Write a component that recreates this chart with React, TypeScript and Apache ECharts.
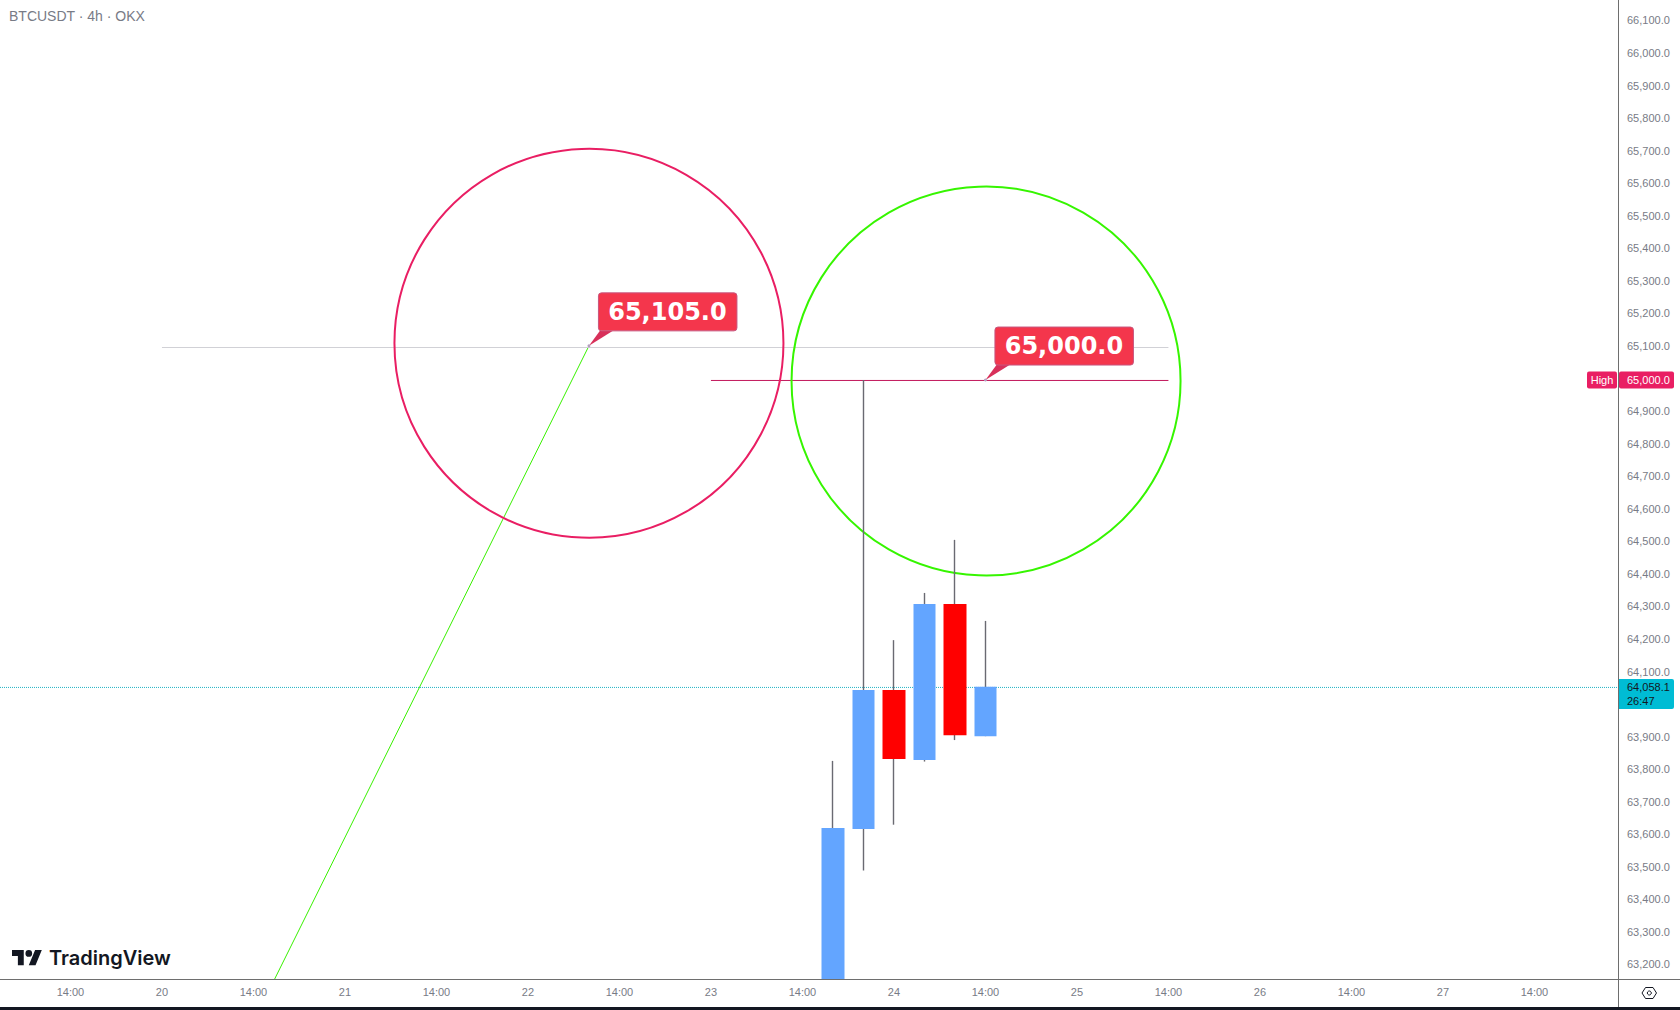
import React, { useEffect, useRef } from "react";
import * as echarts from "echarts";

const title = "BTCUSDT · 4h · OKX";
const xMin = -29.31;
const xMax = 23.74;
const yMin = 63160;
const yMax = 66167.5;

const xTickValues = [-27, -24, -21, -18, -15, -12, -9, -6, -3, 0, 3, 6, 9, 12, 15, 18, 21];
const xTickLabels = ["14:00", "20", "14:00", "21", "14:00", "22", "14:00", "23", "14:00", "24", "14:00", "25", "14:00", "26", "14:00", "27", "14:00"];
const yTickValues = [63200, 63300, 63400, 63500, 63600, 63700, 63800, 63900, 64100, 64200, 64300, 64400, 64500, 64600, 64700, 64800, 64900, 65000, 65100, 65200, 65300, 65400, 65500, 65600, 65700, 65800, 65900, 66000, 66100];

// [slot, open, close, low, high]
const candles = [
  [-2, 63160, 63624, 63160, 63830],
  [-1, 63621, 64048, 63493, 65000],
  [0, 64048, 63836, 63634, 64201],
  [1, 63833, 64312, 63828, 64346],
  [2, 64312, 63909, 63894, 64509],
  [3, 63906, 64058, 63906, 64260],
];

const greenLeg = [[-21.03, 63023], [-10, 65105]];
const greyLevel = [[-24, 65100], [9, 65100]];
const redLevel = [[-6, 64998.7], [9, 64998.7]];
const lastPriceLine = [[xMin, 64055.7], [xMax, 64055.7]];
const redCircle = [[-10, 65113]];
const greenCircle = [[3.02, 64997]];
const callouts = [[-10, 65105], [3, 65000]];
const calloutTexts = ["65,105.0", "65,000.0"];
const highPrice = [[xMax, 65000]];
const highTexts = ["High", "65,000.0"];
const lastPrice = [[xMax, 64057]];
const lastTexts = ["64,058.1", "26:47"];

const UI_FONT = "'Liberation Sans', Arial, sans-serif";
const BLUE = "#63a5ff";
const RED = "#ff0000";
const WICK = "#6a6a72";
const AXIS = "#787b86";
const LINE = "#6e6e6e";
const PINK = "#e91e63";
const CALLOUT = "#f4364c";

const TV_MARK =
  "M14 22H7V11H0V4h14v18zM28 22h-8l7.5-18h8L28 22zM16 8a4 4 0 1 0 8 0a4 4 0 1 0-8 0z";
echarts.graphic.registerShape("tvmark", echarts.graphic.extendPath(TV_MARK, {}));

export default function App() {
  const ref = useRef<HTMLDivElement>(null);
  useEffect(() => {
    document.body.style.margin = "0";
    const chart = echarts.init(ref.current!, null, { renderer: "svg" });
    const lineSeries = (name: string, data: number[][], color: string, width: number, z = 2, type = "solid") => ({
      name,
      type: "line",
      data,
      symbol: "none",
      silent: true,
      z,
      lineStyle: { color, width, type },
    });
    const circle = (name: string, data: number[][], color: string) => ({
      name,
      type: "scatter",
      data,
      symbol: "circle",
      symbolSize: 389,
      silent: true,
      z: 3,
      itemStyle: { color: "rgba(0,0,0,0)", borderColor: color, borderWidth: 2, opacity: 1 },
    });
    chart.setOption({
      animation: false,
      backgroundColor: "#ffffff",
      title: {
        text: title,
        left: 4,
        top: 4,
        textStyle: { color: AXIS, fontSize: 14, fontWeight: "normal", fontFamily: UI_FONT },
      },
      grid: { left: 0, right: 62, top: 0, bottom: 31 },
      xAxis: {
        type: "value",
        min: xMin,
        max: xMax,
        splitLine: { show: false },
        axisLine: { show: false, onZero: false },
        axisTick: { show: false },
        axisLabel: {
          customValues: xTickValues,
          formatter: (v: number) => xTickLabels[xTickValues.indexOf(v)] ?? "",
          color: AXIS,
          fontSize: 11,
          fontFamily: UI_FONT,
          margin: 7,
        },
      },
      yAxis: {
        type: "value",
        position: "right",
        min: yMin,
        max: yMax,
        splitLine: { show: false },
        axisLine: { show: false, onZero: false },
        axisTick: { show: false },
        axisLabel: {
          customValues: yTickValues,
          formatter: (v: number) =>
            v.toLocaleString("en-US", { minimumFractionDigits: 1, maximumFractionDigits: 1 }),
          color: AXIS,
          fontSize: 11,
          fontFamily: UI_FONT,
          margin: 9,
          verticalAlign: "bottom",
          lineHeight: 3,
        },
      },
      series: [
        lineSeries("Last price", lastPriceLine, "#22b3c4", 1, 1, "dotted"),
        lineSeries("Leg", greenLeg, "#39f000", 1),
        lineSeries("Level 65105", greyLevel, "#d1d1d6", 1),
        lineSeries("Level 65000", redLevel, "#c2185b", 1),
        circle("Sell zone", redCircle, PINK),
        circle("Buy zone", greenCircle, "#36f500"),
        {
          name: "Wicks",
          type: "candlestick",
          data: candles,
          encode: { x: 0, y: [1, 2, 3, 4] },
          barWidth: 1,
          silent: true,
          z: 4,
          itemStyle: { color: WICK, color0: WICK, borderColor: WICK, borderColor0: WICK, borderWidth: 1.4 },
        },
        {
          name: "BTCUSDT",
          type: "candlestick",
          data: candles,
          encode: { x: 0, y: [1, 2, 3, 4] },
          barWidth: 23,
          silent: true,
          z: 5,
          itemStyle: { color: BLUE, color0: RED, borderColor: BLUE, borderColor0: RED, borderWidth: 0 },
        },
        {
          name: "Callouts",
          type: "custom",
          data: callouts,
          encode: { x: 0, y: 1 },
          silent: true,
          z: 8,
          renderItem: (params: any, api: any) => {
            const [x, y] = api.coord([api.value(0), api.value(1)]);
            return {
              type: "group",
              children: [
                { type: "polygon", shape: { points: [[x, y], [x + 11, y - 15], [x + 24, y - 15]] }, style: { fill: "#d8305a" } },
                { type: "circle", shape: { cx: x, cy: y, r: 1.5 }, style: { fill: "#b4a0c0" } },
                {
                  type: "rect",
                  shape: { x: x + 9.5, y: y - 53, width: 138.5, height: 38, r: 3 },
                  style: { fill: CALLOUT, stroke: "#c7577f", lineWidth: 1 },
                },
                {
                  type: "text",
                  style: {
                    text: calloutTexts[params.dataIndex],
                    x: x + 78.5,
                    y: y - 34,
                    align: "center",
                    verticalAlign: "middle",
                    fill: "#ffffff",
                    fontSize: 24,
                    fontWeight: "bold",
                    fontFamily: "'DejaVu Sans', sans-serif",
                  },
                },
              ],
            };
          },
        },
        {
          name: "High",
          type: "custom",
          data: highPrice,
          encode: { x: 0, y: 1 },
          silent: true,
          z: 9,
          renderItem: (_: any, api: any) => {
            const [x, y] = api.coord([api.value(0), api.value(1)]);
            return {
              type: "group",
              children: [
                { type: "rect", shape: { x: x - 31, y: y - 8.5, width: 30, height: 17, r: 2 }, style: { fill: PINK } },
                { type: "rect", shape: { x: x + 1, y: y - 8.5, width: 55, height: 17, r: 2 }, style: { fill: PINK } },
                { type: "text", style: { text: highTexts[0], x: x - 16, y, align: "center", verticalAlign: "middle", fill: "#fff", fontSize: 11, fontFamily: UI_FONT } },
                { type: "text", style: { text: highTexts[1], x: x + 9, y, align: "left", verticalAlign: "middle", fill: "#fff", fontSize: 11, fontFamily: UI_FONT } },
              ],
            };
          },
        },
        {
          name: "Last",
          type: "custom",
          data: lastPrice,
          encode: { x: 0, y: 1 },
          silent: true,
          z: 9,
          renderItem: (_: any, api: any) => {
            const [x, y] = api.coord([api.value(0), api.value(1)]);
            return {
              type: "group",
              children: [
                { type: "rect", shape: { x, y: y - 8, width: 56, height: 30, r: [0, 2, 2, 0] }, style: { fill: "#00bcd4" } },
                { type: "text", style: { text: lastTexts[0], x: x + 9, y: y - 0.5, align: "left", verticalAlign: "middle", fill: "#131722", fontSize: 11, fontFamily: UI_FONT } },
                { type: "text", style: { text: lastTexts[1], x: x + 9, y: y + 13.5, align: "left", verticalAlign: "middle", fill: "#131722", fontSize: 11, fontFamily: UI_FONT } },
              ],
            };
          },
        },
      ],
      graphic: [
        { type: "line", z: 20, shape: { x1: 0, y1: 979.5, x2: 1680, y2: 979.5 }, style: { stroke: LINE, lineWidth: 1 } },
        { type: "line", z: 20, shape: { x1: 1618.5, y1: 0, x2: 1618.5, y2: 1007 }, style: { stroke: LINE, lineWidth: 1 } },
        { type: "rect", z: 20, shape: { x: 0, y: 1007, width: 1680, height: 3 }, style: { fill: "#131722" } },
        {
          type: "polygon",
          z: 20,
          shape: { points: [[1642, 993], [1645.5, 987.5], [1653, 987.5], [1656.5, 993], [1653, 998.5], [1645.5, 998.5]] },
          style: { fill: "#fff", stroke: "#131722", lineWidth: 1 },
        },
        { type: "circle", z: 21, shape: { cx: 1649.3, cy: 993, r: 2 }, style: { fill: "#fff", stroke: "#131722", lineWidth: 1 } },
        { type: "tvmark", z: 20, x: 12, y: 946.7, scaleX: 0.84, scaleY: 0.84, style: { fill: "#131722" } },
        {
          type: "text",
          z: 20,
          x: 49,
          y: 958,
          style: { text: "TradingView", fill: "#131722", fontSize: 20, fontWeight: 600, fontFamily: "Inter, sans-serif", verticalAlign: "middle" },
        },
      ],
    });
    return () => chart.dispose();
  }, []);
  return <div ref={ref} style={{ width: 1680, height: 1010 }} />;
}
